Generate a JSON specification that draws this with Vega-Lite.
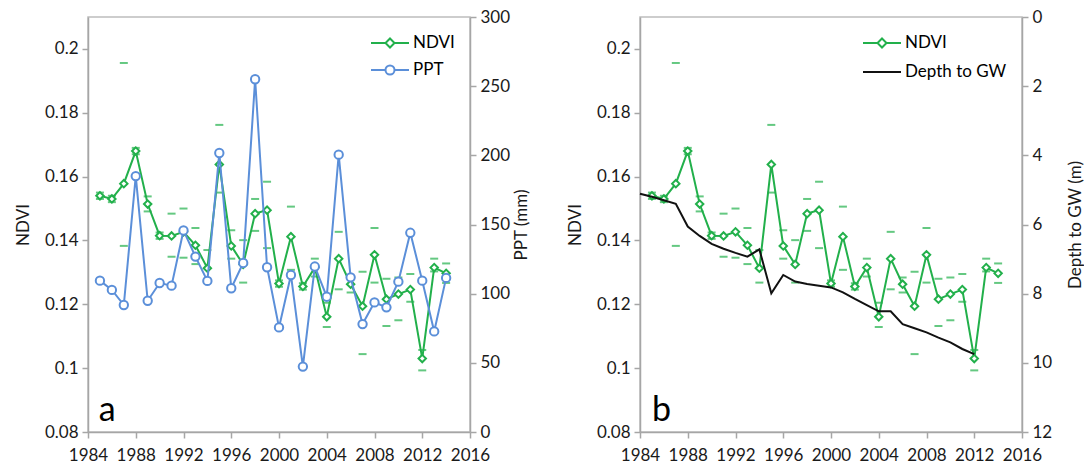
{
  "$schema": "https://vega.github.io/schema/vega-lite/v6.json",
  "padding": {"left": 13, "top": 7, "right": 0, "bottom": 0},
  "spacing": 34,
  "datasets": {
    "annual": [
      {"year": 1985, "ndvi": 0.1540, "up": 0.1550, "lo": 0.1530, "ppt": 109.4},
      {"year": 1986, "ndvi": 0.1530, "up": 0.1540, "lo": 0.1520, "ppt": 102.7},
      {"year": 1987, "ndvi": 0.1578, "up": 0.1956, "lo": 0.1383, "ppt": 91.8},
      {"year": 1988, "ndvi": 0.1680, "up": 0.1690, "lo": 0.1670, "ppt": 185.0},
      {"year": 1989, "ndvi": 0.1514, "up": 0.1538, "lo": 0.1491, "ppt": 94.9},
      {"year": 1990, "ndvi": 0.1415, "up": 0.1425, "lo": 0.1405, "ppt": 107.7},
      {"year": 1991, "ndvi": 0.1414, "up": 0.1484, "lo": 0.1349, "ppt": 105.8},
      {"year": 1992, "ndvi": 0.1427, "up": 0.1500, "lo": 0.1346, "ppt": 145.7},
      {"year": 1993, "ndvi": 0.1385, "up": 0.1439, "lo": 0.1326, "ppt": 126.8},
      {"year": 1994, "ndvi": 0.1313, "up": 0.1370, "lo": 0.1268, "ppt": 109.2},
      {"year": 1995, "ndvi": 0.1638, "up": 0.1762, "lo": 0.1550, "ppt": 201.7},
      {"year": 1996, "ndvi": 0.1383, "up": 0.1432, "lo": 0.1343, "ppt": 103.9},
      {"year": 1997, "ndvi": 0.1325, "up": 0.1401, "lo": 0.1268, "ppt": 122.2},
      {"year": 1998, "ndvi": 0.1484, "up": 0.1530, "lo": 0.1430, "ppt": 255.0},
      {"year": 1999, "ndvi": 0.1495, "up": 0.1584, "lo": 0.1376, "ppt": 119.1},
      {"year": 2000, "ndvi": 0.1265, "up": 0.1275, "lo": 0.1255, "ppt": 75.6},
      {"year": 2001, "ndvi": 0.1412, "up": 0.1506, "lo": 0.1308, "ppt": 113.5},
      {"year": 2002, "ndvi": 0.1256, "up": 0.1266, "lo": 0.1246, "ppt": 47.3},
      {"year": 2003, "ndvi": 0.1315, "up": 0.1343, "lo": 0.1287, "ppt": 119.6},
      {"year": 2004, "ndvi": 0.1161, "up": 0.1205, "lo": 0.1129, "ppt": 97.8},
      {"year": 2005, "ndvi": 0.1343, "up": 0.1427, "lo": 0.1247, "ppt": 200.5},
      {"year": 2006, "ndvi": 0.1263, "up": 0.1284, "lo": 0.1237, "ppt": 111.8},
      {"year": 2007, "ndvi": 0.1194, "up": 0.1302, "lo": 0.1044, "ppt": 78.0},
      {"year": 2008, "ndvi": 0.1355, "up": 0.1439, "lo": 0.1268, "ppt": 93.7},
      {"year": 2009, "ndvi": 0.1216, "up": 0.1280, "lo": 0.1132, "ppt": 90.1},
      {"year": 2010, "ndvi": 0.1232, "up": 0.1284, "lo": 0.1150, "ppt": 108.7},
      {"year": 2011, "ndvi": 0.1246, "up": 0.1295, "lo": 0.1208, "ppt": 144.0},
      {"year": 2012, "ndvi": 0.1030, "up": 0.1057, "lo": 0.0993, "ppt": 109.4},
      {"year": 2013, "ndvi": 0.1315, "up": 0.1343, "lo": 0.1303, "ppt": 72.7},
      {"year": 2014, "ndvi": 0.1297, "up": 0.1328, "lo": 0.1267, "ppt": 111.4}
    ],
    "gw": [
      {"year": 1984, "depth": 5.11},
      {"year": 1985, "depth": 5.20},
      {"year": 1986, "depth": 5.30},
      {"year": 1987, "depth": 5.40},
      {"year": 1988, "depth": 6.06},
      {"year": 1989, "depth": 6.33},
      {"year": 1990, "depth": 6.56},
      {"year": 1991, "depth": 6.70},
      {"year": 1992, "depth": 6.82},
      {"year": 1993, "depth": 6.93},
      {"year": 1994, "depth": 6.72},
      {"year": 1995, "depth": 7.99},
      {"year": 1996, "depth": 7.46},
      {"year": 1997, "depth": 7.65},
      {"year": 1998, "depth": 7.72},
      {"year": 1999, "depth": 7.77},
      {"year": 2000, "depth": 7.82},
      {"year": 2001, "depth": 7.96},
      {"year": 2002, "depth": 8.15},
      {"year": 2003, "depth": 8.33},
      {"year": 2004, "depth": 8.51},
      {"year": 2005, "depth": 8.51},
      {"year": 2006, "depth": 8.88},
      {"year": 2007, "depth": 9.00},
      {"year": 2008, "depth": 9.12},
      {"year": 2009, "depth": 9.27},
      {"year": 2010, "depth": 9.41},
      {"year": 2011, "depth": 9.60},
      {"year": 2012, "depth": 9.75}
    ]
  },
  "hconcat": [
    {
      "width": 382,
      "height": 415,
      "layer": [
        {
          "data": {"name": "annual"},
          "layer": [
            {
              "mark": {"type": "tick", "orient": "horizontal", "color": "#22b04b", "size": 8, "thickness": 2},
              "encoding": {
                "x": {"field": "year", "type": "quantitative", "scale": {"domain": [1984, 2016], "nice": false}, "axis": {"values": [1984, 1988, 1992, 1996, 2000, 2004, 2008, 2012, 2016], "format": "d", "title": null, "labelPadding": 9}},
                "y": {"field": "up", "type": "quantitative", "scale": {"domain": [0.08, 0.21], "nice": false, "zero": false}, "axis": {"values": [0.08, 0.1, 0.12, 0.14, 0.16, 0.18, 0.2], "format": ".2~f", "title": "NDVI"}}
              }
            },
            {
              "mark": {"type": "tick", "orient": "horizontal", "color": "#22b04b", "size": 8, "thickness": 2},
              "encoding": {
                "x": {"field": "year", "type": "quantitative"},
                "y": {"field": "lo", "type": "quantitative"}
              }
            },
            {
              "mark": {"type": "line", "strokeWidth": 2},
              "encoding": {
                "x": {"field": "year", "type": "quantitative"},
                "y": {"field": "ndvi", "type": "quantitative"},
                "color": {
                  "datum": "NDVI",
                  "type": "nominal",
                  "scale": {"domain": ["NDVI", "PPT"], "range": ["#22b04b", "#5b8fd9"]},
                  "legend": {
                    "title": null, "orient": "top-right", "offset": 15, "padding": 0,
                    "symbolSize": 400, "symbolStrokeWidth": 2, "rowPadding": 7,
                    "labelFont": "Lato", "labelFontSize": 17, "labelColor": "#000000", "labelOffset": 12,
                    "encode": {"symbols": {"update": {
                      "shape": {"signal": "datum.value === 'NDVI' ? 'M-1.9,0H-0.45M0.45,0H1.9M0,-0.45L0.45,0L0,0.45L-0.45,0Z' : 'M-1.9,0H-0.45M0.45,0H1.9M0.45,0A0.45,0.45,0,1,1,-0.45,0A0.45,0.45,0,1,1,0.45,0Z'"},
                      "fill": {"value": "#ffffff"},
                      "opacity": {"value": 1}
                    }}}
                  }
                }
              }
            },
            {
              "mark": {"type": "point", "shape": "diamond", "filled": true, "fill": "#ffffff", "stroke": "#22b04b", "strokeWidth": 2, "size": 55, "opacity": 1},
              "encoding": {
                "x": {"field": "year", "type": "quantitative"},
                "y": {"field": "ndvi", "type": "quantitative"}
              }
            },
            {
              "data": {"values": [{"label": "a"}]},
              "mark": {"type": "text", "font": "Lato", "fontSize": 34, "align": "left", "baseline": "alphabetic", "color": "#000000"},
              "encoding": {
                "x": {"datum": 1984.9, "type": "quantitative"},
                "y": {"datum": 0.0834, "type": "quantitative"},
                "text": {"field": "label"}
              }
            }
          ]
        },
        {
          "data": {"name": "annual"},
          "layer": [
            {
              "mark": {"type": "line", "strokeWidth": 2},
              "encoding": {
                "x": {"field": "year", "type": "quantitative"},
                "y": {"field": "ppt", "type": "quantitative", "scale": {"domain": [0, 300], "nice": false}, "axis": {"orient": "right", "values": [0, 50, 100, 150, 200, 250, 300], "title": "PPT (mm)", "titleAngle": 270, "titleBaseline": "top", "titlePadding": 4}},
                "color": {"datum": "PPT", "type": "nominal"}
              }
            },
            {
              "mark": {"type": "point", "shape": "circle", "filled": true, "fill": "#ffffff", "stroke": "#5b8fd9", "strokeWidth": 2, "size": 70, "opacity": 1},
              "encoding": {
                "x": {"field": "year", "type": "quantitative"},
                "y": {"field": "ppt", "type": "quantitative"}
              }
            }
          ]
        }
      ],
      "resolve": {"scale": {"y": "independent"}}
    },
    {
      "width": 382,
      "height": 415,
      "layer": [
        {
          "data": {"name": "annual"},
          "layer": [
            {
              "mark": {"type": "tick", "orient": "horizontal", "color": "#22b04b", "size": 8, "thickness": 2},
              "encoding": {
                "x": {"field": "year", "type": "quantitative", "scale": {"domain": [1984, 2016], "nice": false}, "axis": {"values": [1984, 1988, 1992, 1996, 2000, 2004, 2008, 2012, 2016], "format": "d", "title": null, "labelPadding": 9}},
                "y": {"field": "up", "type": "quantitative", "scale": {"domain": [0.08, 0.21], "nice": false, "zero": false}, "axis": {"values": [0.08, 0.1, 0.12, 0.14, 0.16, 0.18, 0.2], "format": ".2~f", "title": "NDVI"}}
              }
            },
            {
              "mark": {"type": "tick", "orient": "horizontal", "color": "#22b04b", "size": 8, "thickness": 2},
              "encoding": {
                "x": {"field": "year", "type": "quantitative"},
                "y": {"field": "lo", "type": "quantitative"}
              }
            },
            {
              "mark": {"type": "line", "strokeWidth": 2},
              "encoding": {
                "x": {"field": "year", "type": "quantitative"},
                "y": {"field": "ndvi", "type": "quantitative"},
                "color": {
                  "datum": "NDVI",
                  "type": "nominal",
                  "scale": {"domain": ["NDVI", "Depth to GW"], "range": ["#22b04b", "#111111"]},
                  "legend": {
                    "title": null, "orient": "top-right", "offset": 15, "padding": 0,
                    "symbolSize": 400, "symbolStrokeWidth": 2, "rowPadding": 9,
                    "labelFont": "Lato", "labelFontSize": 17, "labelColor": "#000000", "labelOffset": 12,
                    "encode": {"symbols": {"update": {
                      "shape": {"signal": "datum.value === 'NDVI' ? 'M-1.9,0H-0.45M0.45,0H1.9M0,-0.45L0.45,0L0,0.45L-0.45,0Z' : 'M-1.9,0H1.9'"},
                      "fill": {"value": "#ffffff"},
                      "opacity": {"value": 1}
                    }}}
                  }
                }
              }
            },
            {
              "mark": {"type": "point", "shape": "diamond", "filled": true, "fill": "#ffffff", "stroke": "#22b04b", "strokeWidth": 2, "size": 55, "opacity": 1},
              "encoding": {
                "x": {"field": "year", "type": "quantitative"},
                "y": {"field": "ndvi", "type": "quantitative"}
              }
            },
            {
              "data": {"values": [{"label": "b"}]},
              "mark": {"type": "text", "font": "Lato", "fontSize": 34, "align": "left", "baseline": "alphabetic", "color": "#000000"},
              "encoding": {
                "x": {"datum": 1985.0, "type": "quantitative"},
                "y": {"datum": 0.0834, "type": "quantitative"},
                "text": {"field": "label"}
              }
            }
          ]
        },
        {
          "data": {"name": "gw"},
          "mark": {"type": "line", "strokeWidth": 2},
          "encoding": {
            "x": {"field": "year", "type": "quantitative"},
            "y": {"field": "depth", "type": "quantitative", "scale": {"domain": [0, 12], "reverse": true, "nice": false}, "axis": {"orient": "right", "values": [0, 2, 4, 6, 8, 10, 12], "title": "Depth to GW (m)", "titleAngle": 270, "titleBaseline": "top", "titlePadding": 16}},
            "color": {"datum": "Depth to GW", "type": "nominal"}
          }
        }
      ],
      "resolve": {"scale": {"y": "independent"}}
    }
  ],
  "resolve": {"scale": {"color": "independent"}},
  "config": {
    "font": "Lato",
    "view": {"stroke": "#bdbdbd", "strokeWidth": 1.5},
    "axis": {
      "grid": false,
      "domainColor": "#a6a6a6", "domainWidth": 1.5,
      "tickColor": "#a6a6a6", "tickWidth": 1.5, "tickSize": 6,
      "labelFont": "Lato", "labelFontSize": 17, "labelColor": "#1a1a1a", "labelPadding": 4,
      "labelFlush": false, "labelOverlap": false,
      "titleFont": "Lato", "titleFontSize": 17, "titleFontWeight": "normal", "titleColor": "#1a1a1a", "titlePadding": 12
    }
  }
}
